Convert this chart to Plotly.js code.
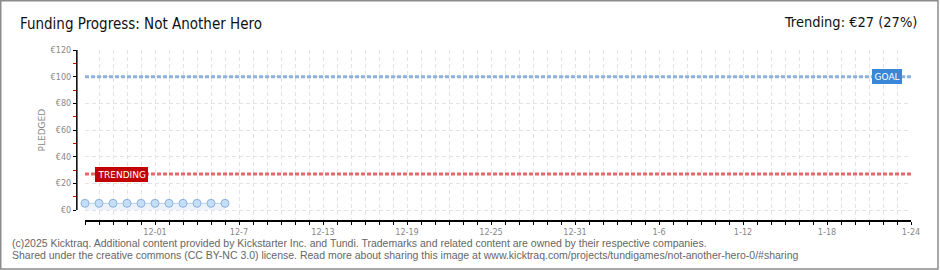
<!DOCTYPE html>
<html><head><meta charset="utf-8">
<script src="https://cdn.plot.ly/plotly-3.0.1.min.js"></script>
<style>html,body{margin:0;padding:0;background:#fff}#chart{width:940px;height:270px}</style>
</head><body><div id="chart"></div>
<script>
const dates = ['2025-11-26','2025-11-27','2025-11-28','2025-11-29','2025-11-30','2025-12-01','2025-12-02','2025-12-03','2025-12-04','2025-12-05','2025-12-06'];
const pledged = [5,5,5,5,5,5,5,5,5,5,5];
const goal = 100;
const trending = 27;
const rangeStart = '2025-11-26';
const rangeEnd = '2026-01-24';
const tickDates = ['2025-12-01','2025-12-07','2025-12-13','2025-12-19','2025-12-25','2025-12-31','2026-01-06','2026-01-12','2026-01-18','2026-01-24'];
const tickLabels = ['12-01','12-7','12-13','12-19','12-25','12-31','1-6','1-12','1-18','1-24'];
const yTickVals = [0,20,40,60,80,100,120];
const yTickLabels = ['€0','€20','€40','€60','€80','€100','€120'];
const titleText = 'Funding Progress: Not Another Hero';
const trendText = 'Trending: €27 (27%)';
const footer1 = '(c)2025 Kicktraq. Additional content provided by Kickstarter Inc. and Tundi. Trademarks and related content are owned by their respective companies.';
const footer2 = 'Shared under the creative commons (CC BY-NC 3.0) license. Read more about sharing this image at www.kicktraq.com/projects/tundigames/not-another-hero-0/#sharing';

const W=940,H=270,L=76,R=29,T=50,B=50;
const pw=W-L-R, ph=H-T-B;
const px=x=>(x-L)/pw, py=y=>(H-B-y)/ph;
// y: 0 sits 10px above the x axis line -> extend range below zero
const yMin = -120*10/(ph-10);

const grid = '#e3e3e3';
const traces = [
  {x:[rangeStart,rangeEnd], y:[goal,goal], mode:'lines', line:{color:'#8fb2dc',width:3,dash:'4px,2px'}, hoverinfo:'skip'},
  {x:[rangeStart,rangeEnd], y:[trending,trending], mode:'lines', line:{color:'#e06a6a',width:3,dash:'4px,2px'}, hoverinfo:'skip'},
  {x:dates, y:pledged, mode:'lines+markers', fill:'tozeroy', fillcolor:'rgba(200,220,245,0.35)', cliponaxis:false,
   line:{color:'#b9d3f0',width:1}, marker:{size:8,color:'#c6ddf6',line:{color:'#8db3de',width:1}}}
];

const layout = {
  width:W, height:H, margin:{l:L,r:R,t:T,b:B},
  paper_bgcolor:'#fff', plot_bgcolor:'#fff', showlegend:false,
  title:{text:titleText, x:20/W, xanchor:'left', y:1-24/H, yanchor:'middle', xref:'container', yref:'container',
    font:{family:'Liberation Sans Narrow, DejaVu Sans Condensed, sans-serif', size:15, color:'#111'}},
  xaxis:{type:'date', range:[rangeStart,rangeEnd], domain:[9/pw,1], anchor:'y',
    showline:true, linecolor:'#000', linewidth:1.5,
    tickvals:tickDates, ticktext:tickLabels, ticks:'outside', ticklen:3, tickcolor:'#000', tickwidth:1,
    tickfont:{family:'DejaVu Sans Condensed, sans-serif', size:9, color:'#888'},
    showgrid:true, gridcolor:grid, griddash:'4px,3px', gridwidth:1, zeroline:false,
    minor:{dtick:86400000, tick0:'2025-11-26', ticks:'outside', ticklen:3, tickcolor:'#000', showgrid:true, gridcolor:grid, griddash:'4px,3px'}},
  yaxis:{range:[yMin,120], domain:[0,1], anchor:'free', position:0,
    showline:false,
    tickvals:yTickVals, ticktext:yTickLabels, ticks:'outside', ticklen:3, tickcolor:'#000',
    tickfont:{family:'DejaVu Sans Condensed, sans-serif', size:9, color:'#888'},
    showgrid:true, gridcolor:grid, griddash:'4px,3px', zeroline:false,
    minor:{tickvals:[10,30,50,70,90,110], ticks:'outside', ticklen:3, tickcolor:'#e00000', showgrid:false}},
  annotations:[
    {xref:'paper', yref:'paper', x:px(919), y:py(22), xanchor:'right', yanchor:'middle', showarrow:false, text:trendText,
     font:{family:'Liberation Sans Narrow, DejaVu Sans Condensed, sans-serif', size:14.5, color:'#111'}},
    {xref:'paper', yref:'paper', x:px(34.5), y:py(130), textangle:-90, showarrow:false, text:'PLEDGED',
     font:{family:'DejaVu Sans, sans-serif', size:9, color:'#888'}},
    {xref:'paper', yref:'paper', x:px(10), y:py(243), xanchor:'left', yanchor:'middle', showarrow:false, text:footer1,
     font:{family:'Liberation Sans, sans-serif', size:10.5, color:'#666'}},
    {xref:'paper', yref:'paper', x:px(10), y:py(255), xanchor:'left', yanchor:'middle', showarrow:false, text:footer2,
     font:{family:'Liberation Sans, sans-serif', size:10.5, color:'#666'}},
    {x:'2026-01-22 07:00', y:goal, xref:'x', yref:'y', showarrow:false, text:'GOAL', bgcolor:'#3a87d8', bordercolor:'#3a87d8',
     borderpad:1.5, font:{family:'DejaVu Sans, sans-serif', size:9, color:'#fff'}},
    {x:'2025-11-28 14:00', y:trending, xref:'x', yref:'y', showarrow:false, text:'TRENDING', bgcolor:'#c20000', bordercolor:'#c20000',
     borderpad:1.5, font:{family:'DejaVu Sans, sans-serif', size:9, color:'#fff'}}
  ],
  shapes:[
    {type:'line', xref:'paper', yref:'paper', x0:0.001, x1:0.001, y0:py(210), y1:py(50), line:{color:'#000', width:1.5}},
    {type:'rect', xref:'paper', yref:'paper', x0:px(0.75), x1:px(938), y0:py(269), y1:py(0.75), line:{color:'#8c8c8c', width:1.5}}
  ]
};
Plotly.newPlot('chart', traces, layout, {displayModeBar:false, staticPlot:true});
</script></body></html>
